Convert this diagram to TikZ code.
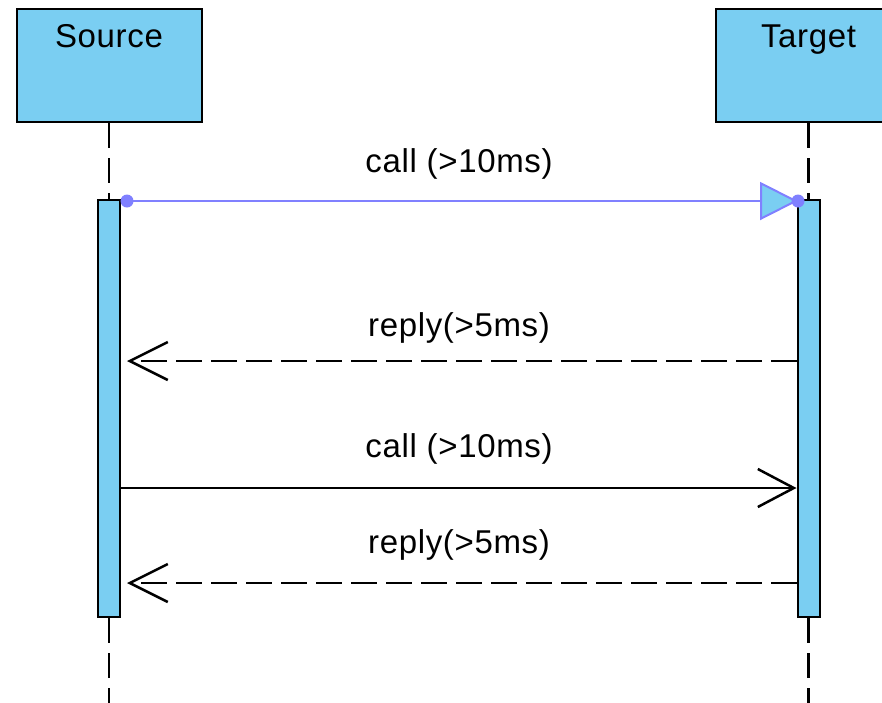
\documentclass[tikz,border=0pt]{standalone}
\usepackage{fontspec}
\setmainfont[LetterSpace=2]{Liberation Sans}
\usetikzlibrary{arrows.meta,calc}

\definecolor{boxblue}{RGB}{122,206,242}
\definecolor{msgblue}{RGB}{128,128,255}

\tikzset{
  actorbox/.style={draw=black, line width=2pt, fill=boxblue, rectangle,
    minimum width=185pt, minimum height=113pt, inner sep=0pt},
  actbar/.style={draw=black, line width=2pt, fill=boxblue, rectangle,
    minimum width=22pt, minimum height=417pt, inner sep=0pt},
  lifeline/.style={draw=black, line width=2.4pt, dash pattern=on 25pt off 10pt},
  msgtext/.style={anchor=base, inner sep=0pt, font=\fontsize{33}{40}\selectfont},
  namelabel/.style={anchor=base, inner sep=0pt, yshift=-39pt, font=\fontsize{33}{40}\selectfont},
  callmsg/.style={draw=black, line width=2pt,
    -{Straight Barb[length=36pt, width=38pt, line width=2.5pt]}},
  replymsg/.style={draw=black, line width=2.4pt, dash pattern=on 26pt off 9pt,
    -{Straight Barb[length=38pt, width=38pt, line width=2.5pt, sep=0pt]}},
  asyncmsg/.style={draw=msgblue, line width=1.6pt,
    -{Triangle[length=38pt, width=38pt, fill=boxblue, line width=2pt]}},
  enddot/.style={circle, fill=msgblue, inner sep=0pt, minimum size=13pt},
}

\begin{document}
\begin{tikzpicture}[x=1pt, y=-1pt]
  \useasboundingbox (0,0) rectangle (882,702);
  \clip (0,0) rectangle (882,702);
  \fill[white] (0,0) rectangle (882,702);

  % end points of the lifelines below the bars
  \coordinate (srcend) at (109,710);
  \coordinate (tgtend) at (808.5,710);

  % participants
  \node[actorbox, label={[namelabel, name=srcname]north:Source}] (src) at (109,65.5) {};
  \node[actorbox, label={[namelabel, name=tgtname]north:Target}] (tgt) at (808.5,65.5) {};

  % activation bars
  \node[actbar] (srcbar) at (109,408.5) {};
  \node[actbar] (tgtbar) at (808.5,408.5) {};

  % lifelines
  \draw[lifeline] (src.south) -- (srcbar.north);
  \draw[lifeline] (tgt.south) -- (tgtbar.north);
  \draw[lifeline] (srcbar.south) -- (srcend);
  \draw[lifeline] (tgtbar.south) -- (tgtend);

  % message heights
  \coordinate (m1) at (0,201);
  \coordinate (m2) at (0,361);
  \coordinate (m3) at (0,488);
  \coordinate (m4) at (0,583);

  % asynchronous call
  \draw[asyncmsg] (srcbar.east |- m1) -- ($(tgtbar.west |- m1)+(1.5,0)$);
  \node[enddot] (dot1) at ($(srcbar.east |- m1)+(6,0)$) {};
  \node[enddot] (dot2) at ($(tgtbar.west |- m1)+(1.5,0)$) {};
  \node[msgtext] (lbl1) at (459,172) {call (>10ms)};

  % reply
  \draw[replymsg] (tgtbar.west |- m2) -- ($(srcbar.east |- m2)+(6,0)$);
  \node[msgtext] (lbl2) at (459,336) {reply(>5ms)};

  % synchronous call
  \draw[callmsg] (srcbar.east |- m3) -- (tgtbar.west |- m3);
  \node[msgtext] (lbl3) at (459,457) {call (>10ms)};

  % reply
  \draw[replymsg] (tgtbar.west |- m4) -- ($(srcbar.east |- m4)+(6,0)$);
  \node[msgtext] (lbl4) at (459,553) {reply(>5ms)};
\end{tikzpicture}
\end{document}
